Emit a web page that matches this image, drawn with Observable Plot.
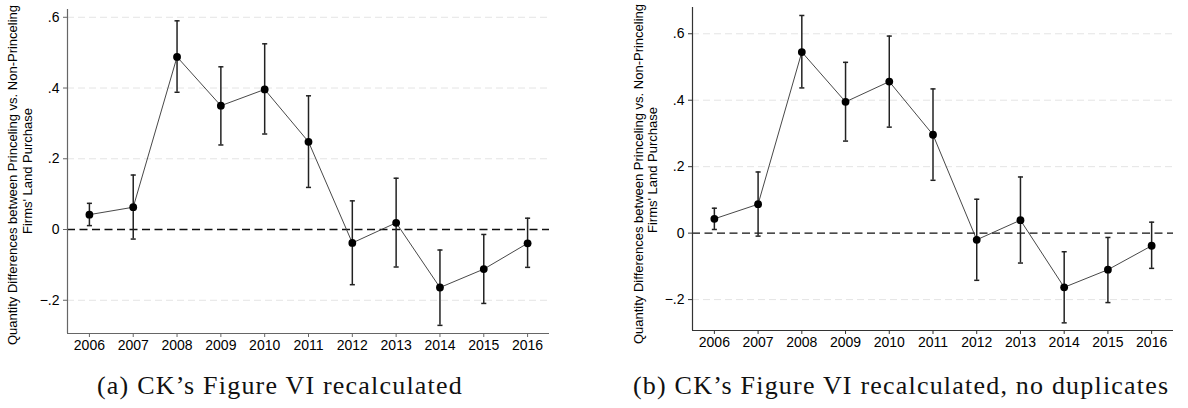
<!DOCTYPE html>
<html>
<head>
<meta charset="utf-8">
<script src="https://cdn.jsdelivr.net/npm/d3@7"></script>
<script src="https://cdn.jsdelivr.net/npm/@observablehq/plot@0.6"></script>
<style>
  html, body { margin: 0; padding: 0; background: #fff; }
  #wrap { position: relative; width: 1188px; height: 408px; overflow: hidden; background: #fff; }
  .panel { position: absolute; top: 0; }
  .cap { position: absolute; font-family: "Liberation Serif", "DejaVu Serif", serif; font-size: 26px; letter-spacing: 1.2px; color: #111; white-space: nowrap; line-height: 1; }
</style>
</head>
<body>
<div id="wrap">
  <div id="pa" class="panel" style="left:0px"></div>
  <div id="pb" class="panel" style="left:594px"></div>
  <div class="cap" id="capa" style="left:97px; top:373px">(a) CK’s Figure VI recalculated</div>
  <div class="cap" id="capb" style="left:633px; top:373px">(b) CK’s Figure VI recalculated, no duplicates</div>
</div>
<script>
// ---- data ----
const years = [2006, 2007, 2008, 2009, 2010, 2011, 2012, 2013, 2014, 2015, 2016];

// Panel (a): CK's Figure VI recalculated
const estA  = [0.042, 0.063, 0.488, 0.350, 0.396, 0.248, -0.038, 0.019, -0.164, -0.112, -0.039];
const upA   = [0.074, 0.154, 0.590, 0.460, 0.525, 0.378,  0.081, 0.145, -0.058, -0.014,  0.032];
const loA   = [0.011, -0.027, 0.388, 0.239, 0.270, 0.119, -0.156, -0.106, -0.271, -0.209, -0.107];

// Panel (b): no duplicates
const estB  = [0.043, 0.087, 0.545, 0.395, 0.456, 0.296, -0.020, 0.039, -0.163, -0.110, -0.038];
const upB   = [0.075, 0.184, 0.655, 0.514, 0.593, 0.434,  0.102, 0.169, -0.056, -0.013,  0.033];
const loB   = [0.011, -0.009, 0.437, 0.277, 0.319, 0.159, -0.142, -0.090, -0.270, -0.209, -0.106];

const yTicks = [-0.2, 0, 0.2, 0.4, 0.6];
const yLabel1 = "Quantity Differences between Princeling vs. Non-Princeling";
const yLabel2 = "Firms' Land Purchase";

const fmtY = d => d === 0 ? "0" : d3.format(".1f")(d).replace("0.", ".");

function makePanel(el, est, up, lo, cfg) {
  const data = years.map((y, i) => ({year: y, est: est[i], hi: up[i], lo: lo[i]}));
  const cap = 0.058;
  const plot = Plot.plot({
    width: 594,
    height: 366,
    marginLeft: cfg.ml,
    marginRight: cfg.mr,
    marginTop: cfg.mt,
    marginBottom: cfg.mb,
    style: {fontFamily: "'Liberation Sans', Arial, sans-serif", fontSize: "14px", background: "white", overflow: "visible"},
    x: {domain: cfg.xd, axis: null},
    y: {domain: cfg.yd, axis: null},
    marks: [
      Plot.gridY(yTicks.filter(d => d !== 0), {stroke: "#e4e4e4", strokeOpacity: 1, strokeDasharray: "7,4"}),
      Plot.ruleY([0], {stroke: "#111", strokeWidth: 1.3, strokeDasharray: "8,4.5"}),
      Plot.ruleX([cfg.xd[0]], {stroke: cfg.axisColor, strokeWidth: 1.2}),
      Plot.ruleY([cfg.yd[0]], {stroke: cfg.axisColor, strokeWidth: 1.2}),
      Plot.axisY(yTicks, {tickSize: 4, tickPadding: 4, tickFormat: fmtY, stroke: cfg.axisColor, fill: "black", fontSize: 14, label: null}),
      Plot.axisX(years, {tickSize: 4, tickPadding: 3, tickFormat: d => String(d), stroke: cfg.axisColor, fill: "black", fontSize: 14, label: null}),
      Plot.ruleX(data, {x: "year", y1: "lo", y2: "hi", stroke: "#222", strokeWidth: 1.5}),
      Plot.link(data, {x1: d => d.year - cap, x2: d => d.year + cap, y1: "hi", y2: "hi", stroke: "#222", strokeWidth: 1.5}),
      Plot.link(data, {x1: d => d.year - cap, x2: d => d.year + cap, y1: "lo", y2: "lo", stroke: "#222", strokeWidth: 1.5}),
      Plot.line(data, {x: "year", y: "est", stroke: "#333", strokeWidth: 0.9}),
      Plot.dot(data, {x: "year", y: "est", r: 3.9, fill: "black", stroke: "none"})
    ]
  });
  const svg = d3.select(plot);
  [[yLabel1, cfg.lx1, cfg.ly1], [yLabel2, cfg.lx2, cfg.ly2]].forEach(([t, x, y]) => {
    svg.append("text")
      .attr("transform", `translate(${x},${y}) rotate(-90)`)
      .attr("text-anchor", "middle")
      .attr("dominant-baseline", "central")
      .attr("font-family", "'Liberation Sans', Arial, sans-serif")
      .attr("font-size", "13px")
      .attr("fill", "black")
      .text(t);
  });
  document.getElementById(el).appendChild(plot);
}

makePanel("pa", estA, upA, loA, {
  ml: 67, mr: 45, mt: 9, mb: 33,
  xd: [2005.5, 2016.5], yd: [-0.294, 0.622],
  axisColor: "#666", lx1: 12, lx2: 27, ly1: 175, ly2: 171
});
makePanel("pb", estB, upB, loB, {
  ml: 98, mr: 15, mt: 7, mb: 36,
  xd: [2005.5, 2016.5], yd: [-0.293, 0.679],
  axisColor: "#333", lx1: 44, lx2: 58, ly1: 174, ly2: 170
});
</script>
</body>
</html>
